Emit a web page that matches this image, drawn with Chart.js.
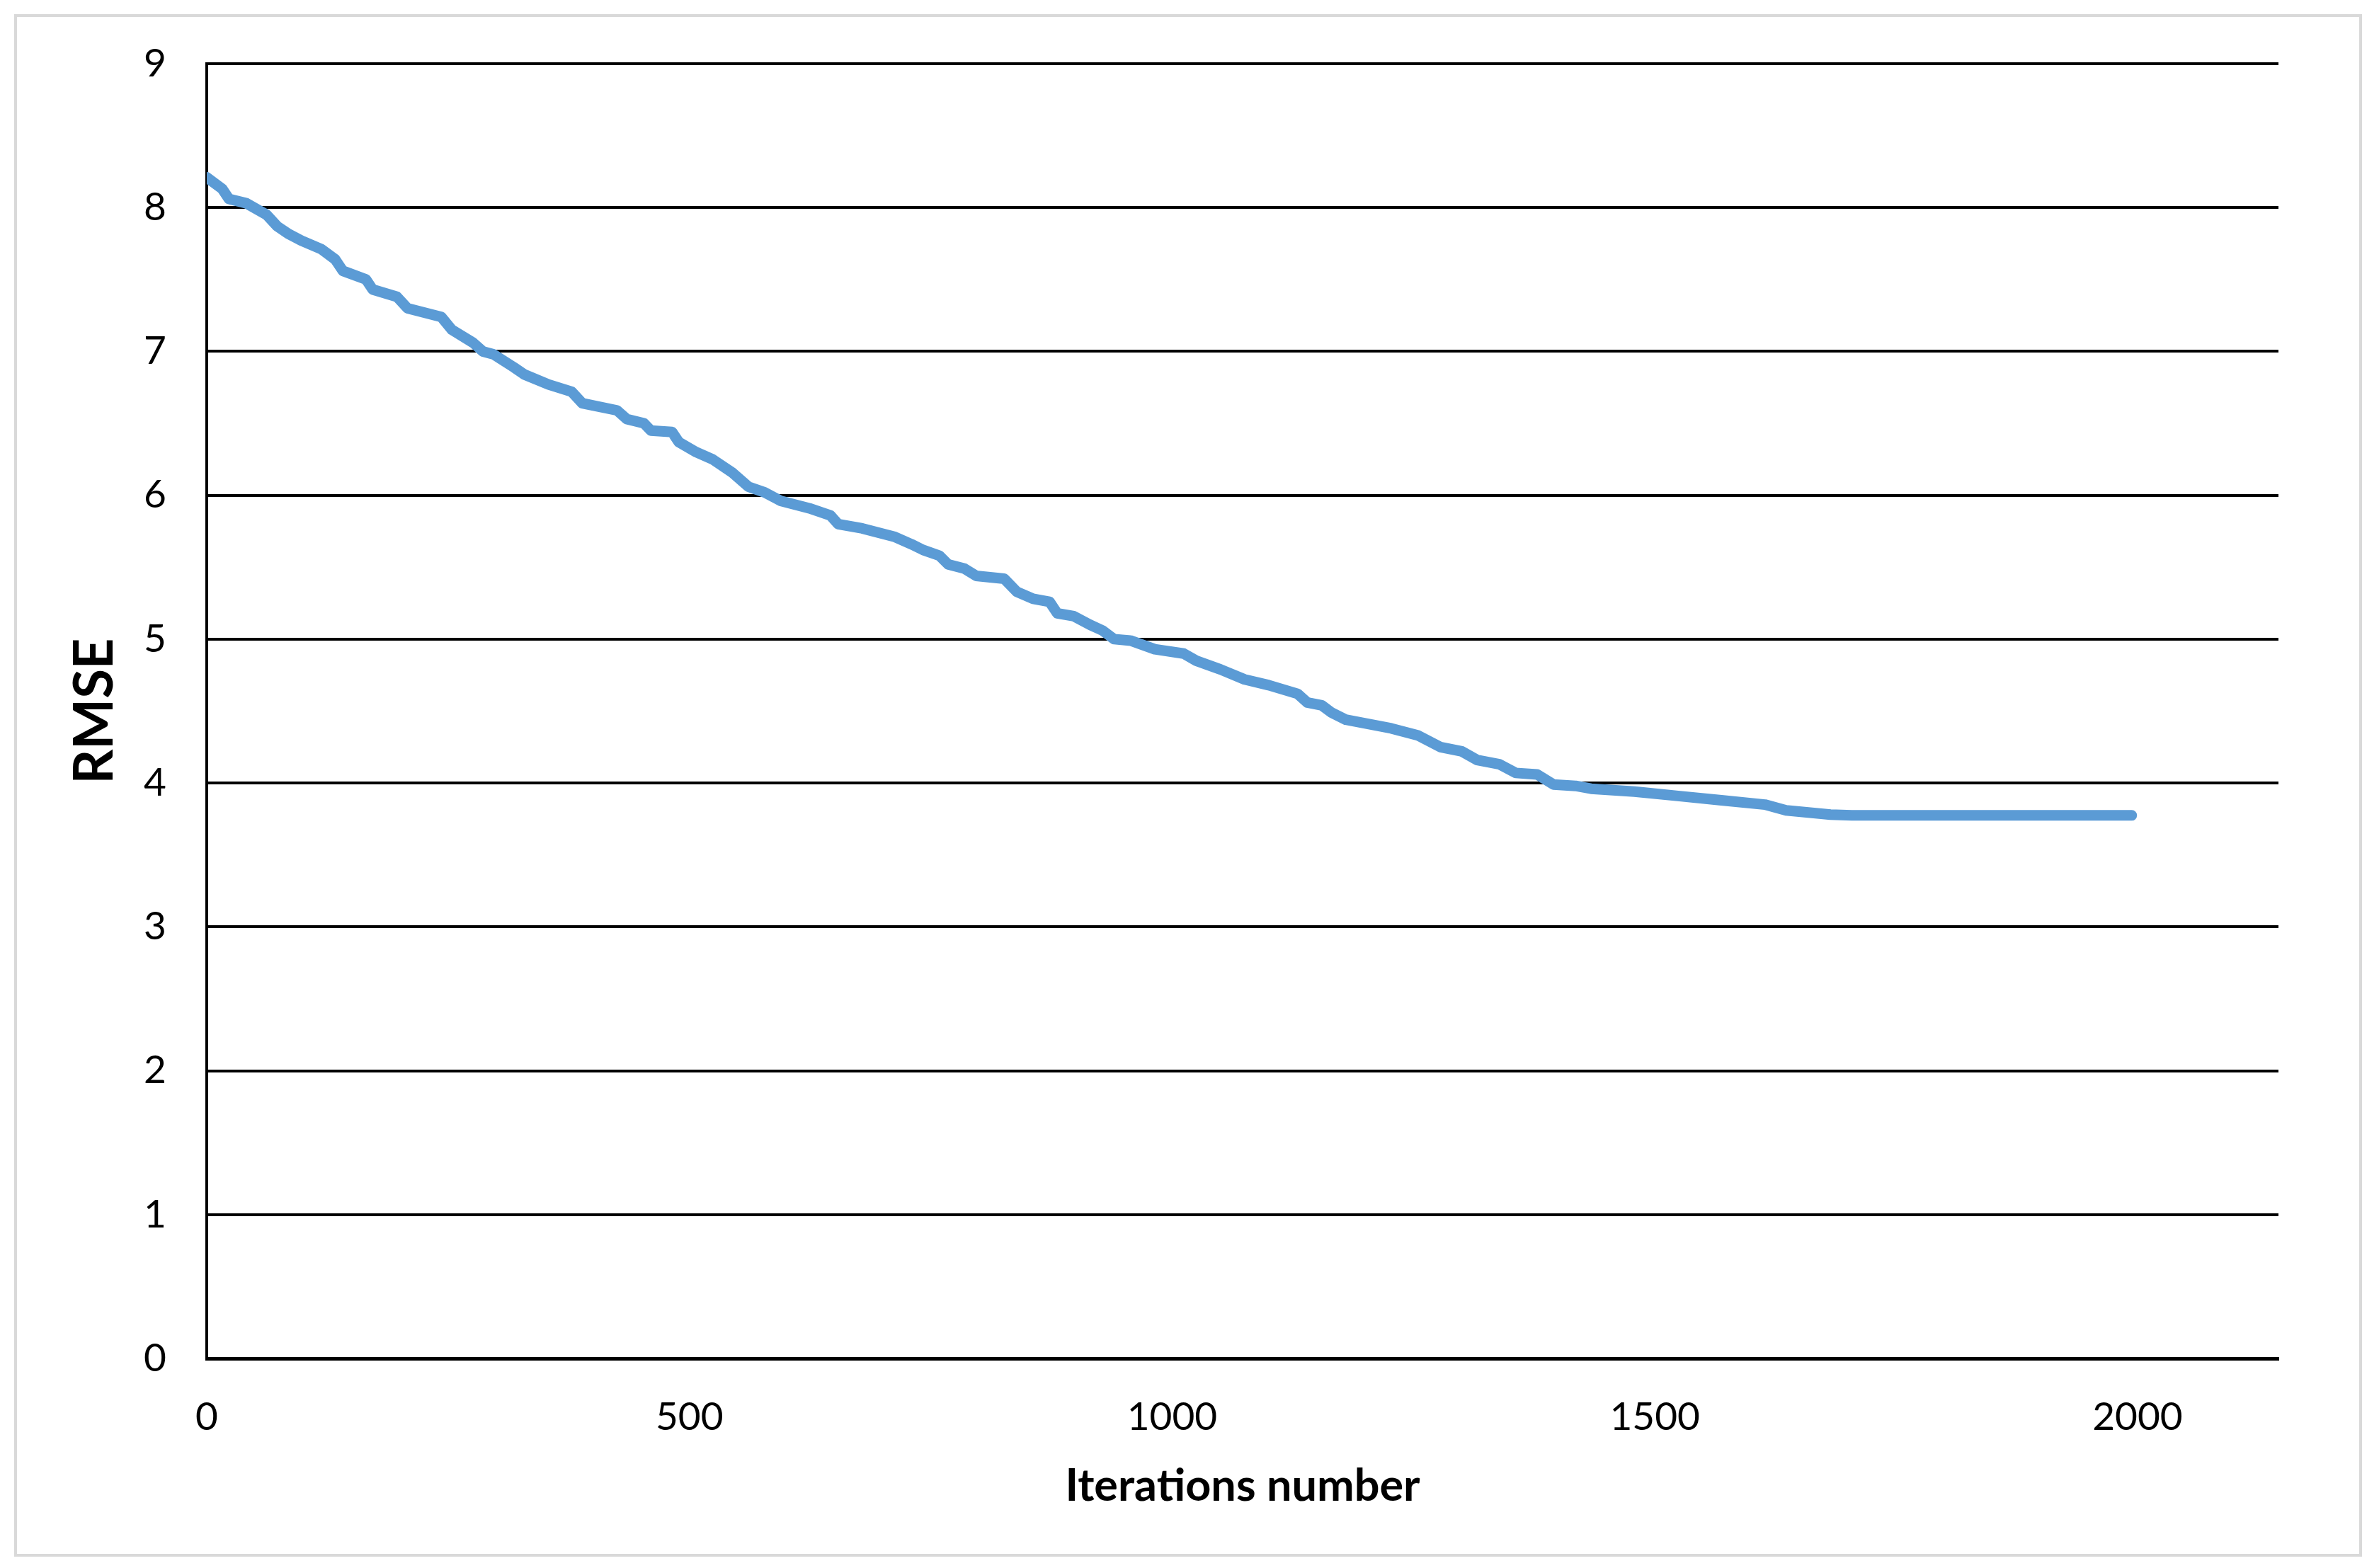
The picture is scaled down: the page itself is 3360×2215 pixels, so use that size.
<!DOCTYPE html>
<html>
<head>
<meta charset="utf-8">
<title>RMSE vs iterations</title>
<script src="https://cdn.jsdelivr.net/npm/chart.js@4.4.1/dist/chart.umd.min.js"></script>
<style>
    html, body { margin: 0; padding: 0; background: #ffffff; }
    .wrap { position: relative; width: 3360px; height: 2215px; }
    .frame {
        position: absolute; left: 20px; top: 20px; width: 3308px; height: 2171px;
        border: 4px solid #d9d9d9; pointer-events: none;
    }
</style>
</head>
<body>
<div class="wrap">
    <canvas id="myChart" width="3360" height="2215"></canvas>
    <div class="frame"></div>
</div>
<script>
// data
const iterations = [0, 16, 23, 41, 62, 73, 84, 98, 119, 133, 141, 165, 172, 197, 208, 243, 254, 276, 286, 297,
    318, 329, 354, 378, 389, 425, 435, 453, 460, 482, 489, 507, 524, 544, 561, 578, 595, 624, 646, 654,
    679, 713, 730, 742, 759, 768, 785, 797, 826, 839, 856, 873, 881, 898, 915, 928, 940, 957, 982, 1012,
    1025, 1050, 1075, 1100, 1130, 1140, 1155, 1165, 1180, 1204, 1227, 1255, 1278, 1300, 1316, 1339, 1356, 1378, 1395, 1418,
    1434, 1479, 1524, 1569, 1614, 1636, 1682, 1704, 1994];
const rmse = [8.21, 8.13, 8.06, 8.03, 7.95, 7.87, 7.82, 7.77, 7.71, 7.64, 7.56, 7.50, 7.43, 7.38, 7.30, 7.24, 7.15, 7.06, 7.00, 6.98,
    6.89, 6.84, 6.77, 6.72, 6.64, 6.59, 6.53, 6.50, 6.45, 6.44, 6.37, 6.30, 6.25, 6.16, 6.06, 6.02, 5.96, 5.91, 5.86, 5.80,
    5.77, 5.71, 5.66, 5.62, 5.58, 5.52, 5.49, 5.44, 5.42, 5.33, 5.28, 5.26, 5.18, 5.16, 5.10, 5.06, 5.00, 4.99, 4.93, 4.90,
    4.85, 4.79, 4.72, 4.68, 4.62, 4.56, 4.54, 4.49, 4.44, 4.41, 4.38, 4.33, 4.25, 4.22, 4.16, 4.13, 4.07, 4.06, 3.99, 3.98,
    3.96, 3.94, 3.91, 3.88, 3.85, 3.81, 3.78, 3.775, 3.775];

// axes
const xTicks = [0, 500, 1000, 1500, 2000];
const yTicks = [0, 1, 2, 3, 4, 5, 6, 7, 8, 9];
const xMax = 2146;
const xTitle = "Iterations number";
const yTitle = "RMSE";

var points = iterations.map((it, i) => ({ x: it, y: rmse[i] }));

// put the ticks exactly where the picture has them
function fixTicks(list) {
    return (scale) => { scale.ticks = list.map(v => ({ value: v })); };
}

new Chart("myChart", {
    type: "line",
    data: {
        datasets: [{
            data: points,
            borderColor: "#5b9bd5",
            borderWidth: 15,
            borderCapStyle: "round",
            borderJoinStyle: "round",
            pointRadius: 0,
            tension: 0,
            fill: false
        }]
    },
    options: {
        responsive: false,
        animation: false,
        layout: { padding: { left: 40, top: 83, right: 142, bottom: 60 } },
        plugins: { legend: { display: false }, tooltip: { enabled: false } },
        scales: {
            x: {
                type: "linear",
                min: xTicks[0],
                max: xMax,
                afterBuildTicks: fixTicks(xTicks),
                afterFit: (scale) => { scale.height = 236; },
                ticks: {
                    color: "#000",
                    padding: 50,
                    callback: (v) => String(v),
                    font: { family: "Lato", size: 55 }
                },
                grid: { display: false, drawTicks: false },
                border: { display: true, color: "#000", width: 5 },
                title: {
                    display: true,
                    text: xTitle,
                    color: "#000",
                    padding: { top: 0, bottom: 18 },
                    font: { family: "Lato", size: 63, weight: "bold" }
                }
            },
            y: {
                min: yTicks[0],
                max: yTicks[yTicks.length - 1],
                afterBuildTicks: fixTicks(yTicks),
                afterFit: (scale) => { scale.width = 252; },
                ticks: {
                    color: "#000",
                    padding: 57,
                    callback: (v) => String(v),
                    font: { family: "Lato", size: 55 }
                },
                grid: { color: "#000", lineWidth: 4, drawTicks: false },
                border: { display: true, color: "#000", width: 4 },
                title: {
                    display: true,
                    text: yTitle,
                    color: "#000",
                    padding: { top: 49, bottom: 0 },
                    font: { family: "Lato", size: 76, weight: "bold" }
                }
            }
        }
    }
});
</script>
</body>
</html>
